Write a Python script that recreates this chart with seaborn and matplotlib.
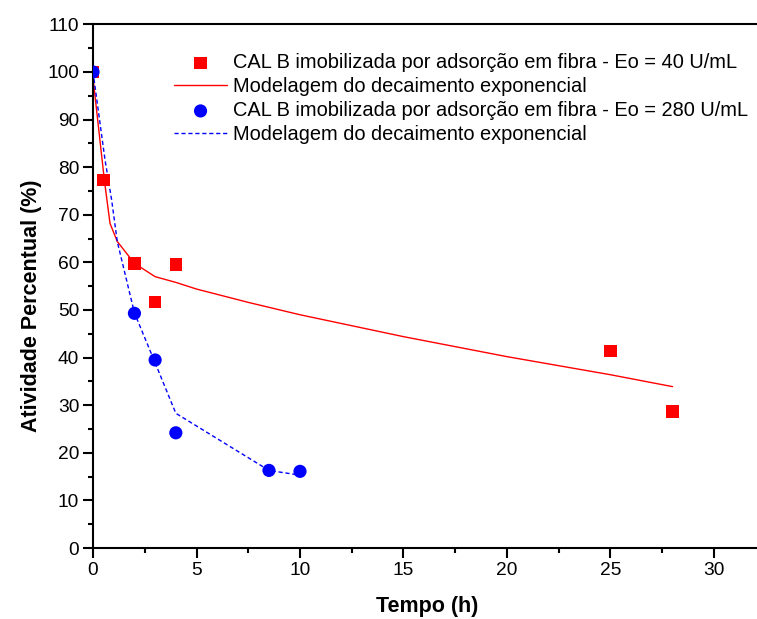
import matplotlib
matplotlib.use("Agg")
import matplotlib.pyplot as plt
import seaborn as sns
import pandas as pd
from matplotlib.ticker import MultipleLocator

# experimental points, Eo = 40 U/mL
t_40 = [0, 0.5, 2, 3, 4, 25, 28]
act_40 = [100, 77.3, 59.8, 51.7, 59.6, 41.4, 28.7]

# experimental points, Eo = 280 U/mL
t_280 = [0, 2, 3, 4, 8.5, 10]
act_280 = [100, 49.3, 39.5, 24.2, 16.3, 16.1]

# exponential decay model curves
fit_t_40 = [0, 0.35, 0.55, 0.82, 1.17, 2.0, 3.0, 4.0, 5.0, 7.5, 10, 15, 20, 25, 28]
fit_act_40 = [98.7, 85.0, 77.2, 68.2, 64.4, 59.8, 57.0, 55.8, 54.4, 51.6, 49.0, 44.4, 40.2, 36.4, 33.9]

fit_t_280 = [0, 0.58, 0.9, 1.17, 2.0, 3.0, 4.0, 8.5, 10]
fit_act_280 = [100, 81.5, 73.1, 64.4, 49.4, 38.9, 28.3, 16.3, 15.3]

labels = [
    "CAL B imobilizada por adsorção em fibra - Eo = 40 U/mL",
    "Modelagem do decaimento exponencial",
    "CAL B imobilizada por adsorção em fibra - Eo = 280 U/mL",
    "Modelagem do decaimento exponencial",
]

sns.set_style("white")
plt.rcParams["font.family"] = ["Liberation Sans", "DejaVu Sans"]
plt.rcParams["text.color"] = "black"
plt.rcParams["axes.labelcolor"] = "black"
plt.rcParams["xtick.color"] = "black"
plt.rcParams["ytick.color"] = "black"

fig = plt.figure(figsize=(7.57, 6.19), dpi=100)
ax = fig.add_axes([0.1229, 0.1147, 0.8771, 0.8459])

pts40 = pd.DataFrame({"t": t_40, "a": act_40})
pts280 = pd.DataFrame({"t": t_280, "a": act_280})
fit40 = pd.DataFrame({"t": fit_t_40, "a": fit_act_40})
fit280 = pd.DataFrame({"t": fit_t_280, "a": fit_act_280})

sns.scatterplot(data=pts40, x="t", y="a", marker="s", s=80, color="#ff0000",
                edgecolor="none", ax=ax, label=labels[0], zorder=3)
sns.lineplot(data=fit40, x="t", y="a", sort=False, estimator=None, color="#ff0000",
             linewidth=1.0, ax=ax, label=labels[1], zorder=2)
sns.scatterplot(data=pts280, x="t", y="a", marker="o", s=90, color="#0000ff",
                edgecolor="none", ax=ax, label=labels[2], zorder=4)
sns.lineplot(data=fit280, x="t", y="a", sort=False, estimator=None, color="#0000ff",
             linewidth=1.0, ax=ax, label=labels[3], zorder=2)
ax.lines[-1].set_dashes([3, 2])

ax.set_xlim(0, 32.08)
ax.set_ylim(0, 110)
ax.xaxis.set_major_locator(MultipleLocator(5))
ax.xaxis.set_minor_locator(MultipleLocator(2.5))
ax.yaxis.set_major_locator(MultipleLocator(10))
ax.yaxis.set_minor_locator(MultipleLocator(5))

for side in ["left", "bottom", "top"]:
    ax.spines[side].set_linewidth(1.5)
    ax.spines[side].set_color("black")
ax.spines["right"].set_visible(False)
ax.tick_params(which="major", direction="out", length=7, width=1.5, labelsize=13.8,
               left=True, bottom=True, top=False, right=False, pad=3)
ax.tick_params(which="minor", direction="out", length=3.5, width=1.5,
               left=True, bottom=True, top=False, right=False)

ax.set_xlabel("Tempo (h)", fontsize=15.5, fontweight="bold")
ax.set_ylabel("Atividade Percentual (%)", fontsize=15.5, fontweight="bold")
ax.xaxis.set_label_coords(0.503, -0.092)
ax.yaxis.set_label_coords(-0.077, 0.462)

leg = ax.legend(loc="upper left", bbox_to_anchor=(0.122, 0.945), frameon=False,
                fontsize=14.4, handlelength=2.65, handletextpad=0.3, labelspacing=0.25,
                borderaxespad=0, borderpad=0)

fig.savefig("out.png", dpi=100)
